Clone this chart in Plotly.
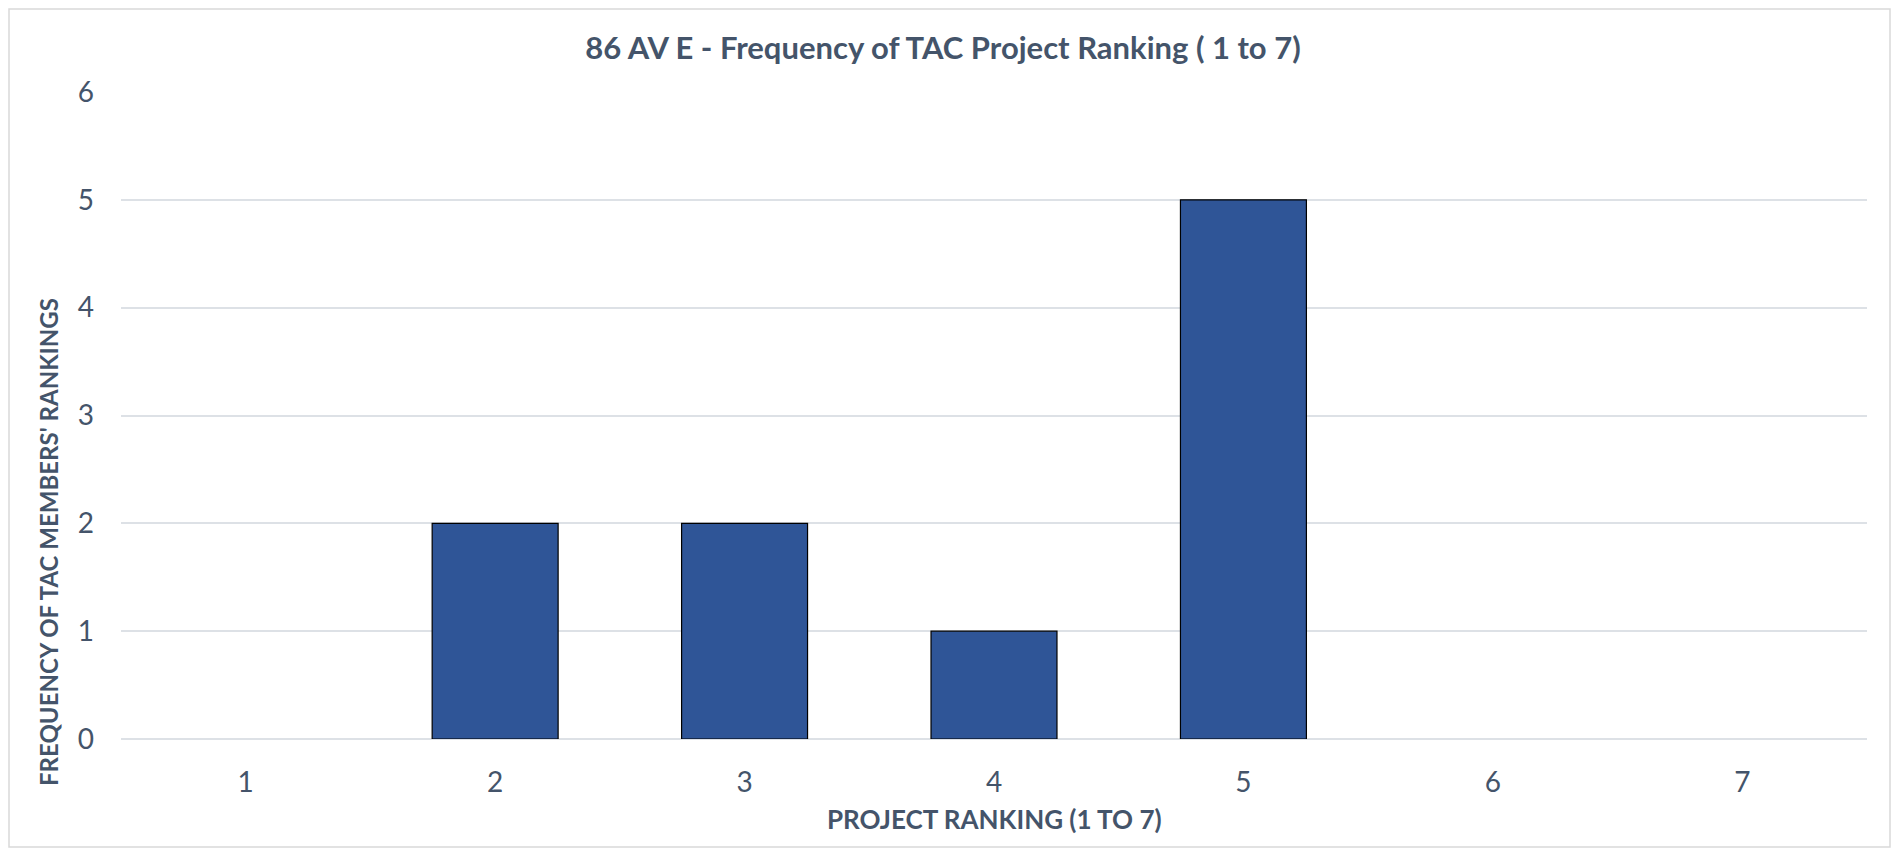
import plotly.graph_objects as go

rankings = ["1", "2", "3", "4", "5", "6", "7"]
frequency = [0, 2, 2, 1, 5, 0, 0]

title_text = "86 AV E - Frequency of TAC Project Ranking ( 1 to 7)"
x_title = "PROJECT RANKING (1 TO 7)"
y_title = "FREQUENCY OF TAC MEMBERS' RANKINGS"

txt = "#44546A"
grid = "#DDE1E6"

# the page body has an 8px margin, so the figure is kept 16px smaller
W, H = 1883, 840
L, R, T, B = 113, 24, 84, 109
pw, ph = W - L - R, H - T - B

fig = go.Figure()
fig.add_trace(go.Bar(
    x=rankings, y=frequency,
    marker=dict(color="#2F5597",
                line=dict(color="#000000", width=[1.2 if v else 0 for v in frequency])),
))

# light grey frame round the whole chart
fig.add_shape(
    type="rect", xref="paper", yref="paper",
    x0=(1 - L) / pw, x1=(W - 1 - L) / pw,
    y0=(B - 1) / -ph, y1=(H - B - 1) / ph,
    line=dict(color="#D9D9D9", width=1.5), fillcolor="rgba(0,0,0,0)", layer="below",
)

fig.add_annotation(
    text="<b>" + y_title + "</b>", textangle=-90, showarrow=False,
    xref="paper", yref="paper", x=(40 - L) / pw, y=(H - B - 534) / ph,
    xanchor="center", yanchor="middle", font=dict(size=24, color=txt),
)
fig.add_annotation(
    text="<b>" + x_title + "</b>", showarrow=False,
    xref="paper", yref="paper", x=0.5, y=-(811 - (H - B)) / ph,
    xanchor="center", yanchor="middle", font=dict(size=26, color=txt),
)

fig.update_layout(
    width=W, height=H,
    margin=dict(l=L, r=R, t=T, b=B, autoexpand=False),
    paper_bgcolor="white", plot_bgcolor="white",
    font=dict(family="Lato", color=txt),
    title=dict(text="<b>" + title_text + "</b>", x=935 / W, xanchor="center",
               y=1 - 40 / H, yanchor="middle", font=dict(size=31, color=txt)),
    bargap=0.495,
    showlegend=False,
)
fig.update_xaxes(
    type="category", showgrid=False, showline=False, ticks="",
    ticklabelstandoff=24, automargin=False,
    tickfont=dict(size=28, color=txt),
)
fig.update_yaxes(
    range=[0, 6], dtick=1, showgrid=True, gridcolor=grid, gridwidth=1.5,
    zeroline=True, zerolinecolor=grid, zerolinewidth=1.5,
    showline=False, ticks="", ticklabelstandoff=26, automargin=False,
    tickfont=dict(size=28, color=txt),
)

fig.write_html("out.html")
